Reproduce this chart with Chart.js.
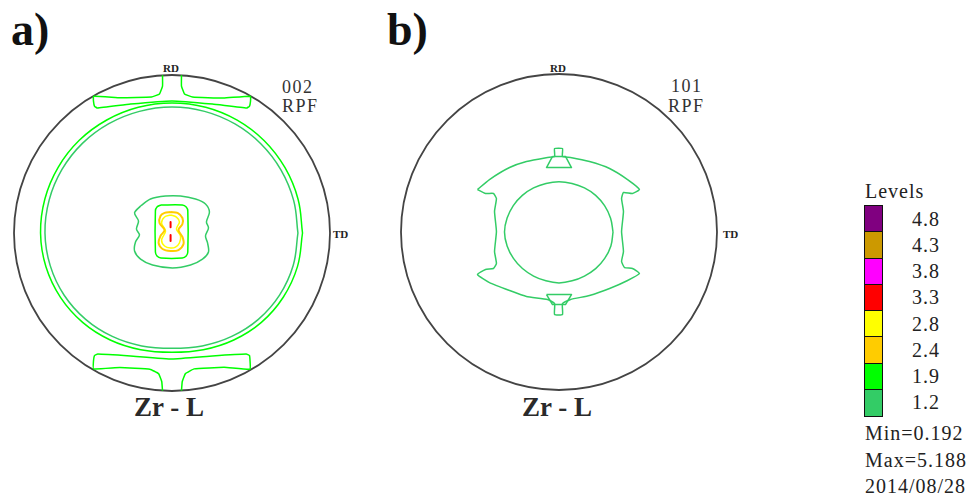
<!DOCTYPE html>
<html>
<head>
<meta charset="utf-8">
<script src="https://cdn.jsdelivr.net/npm/chart.js@4.4.0/dist/chart.umd.min.js"></script>
<style>
  body { margin: 0; width: 967px; height: 499px; background: #fff; position: relative; overflow: hidden;
         font-family: "Liberation Serif", "Times New Roman", serif; color: #222; }
  canvas { position: absolute; }
  .t { position: absolute; white-space: nowrap; line-height: 1; }
  .panel { font-size: 46px; font-weight: bold; color: #111; }
  .axis { font-size: 11px; font-weight: bold; }
  .rpf { font-size: 18px; letter-spacing: 1.5px; color: #333; }
  .name { font-size: 27px; font-weight: bold; color: #2a2a2a; transform: translateX(-50%); }
  .leg { font-size: 20px; letter-spacing: 1px; color: #222; }
  .box { position: absolute; box-sizing: border-box; border: 1.5px solid #111; width: 19px; }
</style>
</head>
<body>

<div class="t panel" style="left:11px;top:7px">a)</div>
<div class="t panel" style="left:387px;top:7px">b)</div>

<div class="t axis" style="left:171px;top:63px;transform:translateX(-50%)">RD</div>
<div class="t axis" style="left:333px;top:229px">TD</div>
<div class="t rpf" style="left:282px;top:78px">002</div>
<div class="t rpf" style="left:282px;top:97px">RPF</div>
<div class="t name" style="left:169px;top:394px">Zr - L</div>

<div class="t axis" style="left:558px;top:63px;transform:translateX(-50%)">RD</div>
<div class="t axis" style="left:723px;top:229px">TD</div>
<div class="t rpf" style="left:671px;top:77px">101</div>
<div class="t rpf" style="left:668px;top:97px">RPF</div>
<div class="t name" style="left:557px;top:394px">Zr - L</div>

<canvas id="pfA" width="340" height="340" style="left:2px;top:63px"></canvas>
<canvas id="pfB" width="340" height="340" style="left:389px;top:62px"></canvas>

<div id="legend"></div>

<script>
// contour levels (legend)
const levels = [4.8, 4.3, 3.8, 3.3, 2.8, 2.4, 1.9, 1.2];
const levelColors = ["#800080", "#cc9900", "#ff00ff", "#ff0000", "#ffff00", "#ffcc00", "#00ff00", "#33cc66"];
const minValue = 0.192;
const maxValue = 5.188;
const dateText = "2014/08/28";

// polar sampling for ring-like contours (degrees)
const ringAngles = [0, 15, 30, 45, 60, 75, 90, 105, 120, 135, 150, 165,
                    180, 195, 210, 225, 240, 255, 270, 285, 300, 315, 330, 345];

// ---- a) 002 pole figure (unit circle = 90 deg) ----
const a_ring19 = [0.826, 0.826, 0.826, 0.826, 0.825, 0.824, 0.823, 0.824, 0.826, 0.83, 0.832, 0.833,
                  0.832, 0.826, 0.815, 0.8, 0.782, 0.765, 0.755, 0.765, 0.782, 0.8, 0.813, 0.822];
const a_ring12 = [0.797, 0.797, 0.797, 0.797, 0.797, 0.797, 0.797, 0.797, 0.799, 0.802, 0.804, 0.805,
                  0.804, 0.798, 0.788, 0.773, 0.756, 0.74, 0.73, 0.74, 0.756, 0.773, 0.786, 0.794];
const a_capTop = [[-0.06, 0.998], [-0.06, 0.93], [-0.079, 0.88], [-0.13, 0.861], [-0.326, 0.856], [-0.496, 0.866],
                  [-0.497, 0.835], [-0.49, 0.802], [-0.472, 0.791], [-0.263, 0.816], [0, 0.836], [0.256, 0.816],
                  [0.472, 0.791], [0.49, 0.802], [0.497, 0.835], [0.496, 0.866], [0.326, 0.854], [0.13, 0.861],
                  [0.079, 0.88], [0.06, 0.93], [0.06, 0.998]];
const a_capBottom = [[-0.06, -0.998], [-0.065, -0.94], [-0.085, -0.89], [-0.14, -0.862], [-0.33, -0.852], [-0.496, -0.86],
                     [-0.497, -0.81], [-0.49, -0.775], [-0.47, -0.766], [-0.263, -0.778], [0, -0.797], [0.256, -0.778],
                     [0.47, -0.766], [0.49, -0.775], [0.494, -0.81], [0.494, -0.862], [0.33, -0.85], [0.14, -0.86],
                     [0.085, -0.89], [0.065, -0.94], [0.06, -0.998]];
const a_center12 = [[-0.199, 0.171], [-0.136, 0.215], [-0.041, 0.234], [0.054, 0.234], [0.149, 0.215], [0.212, 0.184],
                    [0.237, 0.133], [0.218, 0.07], [0.231, 0.032], [0.212, -0.019], [0.225, -0.063], [0.231, -0.12],
                    [0.193, -0.165], [0.117, -0.203], [0.003, -0.222], [-0.123, -0.203], [-0.199, -0.165],
                    [-0.237, -0.114], [-0.231, -0.057], [-0.206, -0.013], [-0.225, 0.025], [-0.212, 0.076], [-0.237, 0.127]];
const a_center19 = [[-0.07, 0.177], [0.065, 0.177], [0.09, 0.165], [0.1, 0.14], [0.1, -0.12], [0.09, -0.145],
                    [0.065, -0.158], [-0.07, -0.158], [-0.095, -0.145], [-0.105, -0.12], [-0.105, 0.14], [-0.095, 0.165]];
const a_center24 = [[-0.009, 0.133], [0.035, 0.127], [0.066, 0.095], [0.066, 0.057], [0.041, 0.019], [0.066, -0.025],
                    [0.073, -0.07], [0.041, -0.108], [-0.009, -0.114], [-0.06, -0.101], [-0.085, -0.063], [-0.073, -0.019],
                    [-0.047, 0.019], [-0.079, 0.063], [-0.073, 0.108], [-0.047, 0.127]];
const a_center28 = [[-0.009, 0.114], [0.028, 0.101], [0.047, 0.07], [0.028, 0.025], [0.054, -0.019], [0.047, -0.063],
                    [0.022, -0.089], [-0.009, -0.095], [-0.047, -0.082], [-0.066, -0.044], [-0.041, 0.013],
                    [-0.066, 0.063], [-0.047, 0.101]];
const a_peak33a = [[-0.009, 0.07], [-0.009, 0.036]];
const a_peak33b = [[-0.009, -0.013], [-0.009, -0.05]];

// ---- b) 101 pole figure ----
const b_outer12 = [[-0.516, 0.269], [-0.44, 0.332], [-0.313, 0.408], [-0.206, 0.446], [-0.073, 0.472], [-0.028, 0.478],
                   [-0.028, 0.528], [0.022, 0.528], [0.022, 0.478], [0.073, 0.472], [0.193, 0.446], [0.32, 0.402],
                   [0.434, 0.332], [0.509, 0.269], [0.465, 0.244], [0.408, 0.25], [0.396, 0.212], [0.408, 0.13],
                   [0.396, 0.003], [0.408, -0.123], [0.396, -0.187], [0.415, -0.225], [0.465, -0.231], [0.509, -0.263],
                   [0.434, -0.307], [0.32, -0.358], [0.193, -0.402], [0.073, -0.427], [0.022, -0.453], [0.022, -0.522],
                   [-0.028, -0.522], [-0.028, -0.453], [-0.073, -0.427], [-0.206, -0.408], [-0.313, -0.37], [-0.44, -0.32],
                   [-0.516, -0.269], [-0.465, -0.237], [-0.415, -0.231], [-0.396, -0.199], [-0.408, -0.123],
                   [-0.396, 0.003], [-0.408, 0.13], [-0.396, 0.212], [-0.415, 0.244], [-0.465, 0.244]];
const b_notchTop = [[-0.041, 0.478], [0.041, 0.478], [0.079, 0.408], [-0.079, 0.408]];
const b_notchBottom = [[-0.079, -0.396], [0.079, -0.396], [0.041, -0.459], [-0.041, -0.459]];
const b_inner12 = [0.342, 0.338, 0.333, 0.328, 0.322, 0.318, 0.318, 0.318, 0.322, 0.328, 0.334, 0.34,
                   0.345, 0.34, 0.333, 0.327, 0.322, 0.32, 0.322, 0.32, 0.322, 0.328, 0.334, 0.34];

const LIM = 170 / 158;

function colorOf(level) {
    return levelColors[levels.indexOf(level)];
}
function pts(list, closed) {
    const p = list.map(([x, y]) => ({ x, y }));
    if (closed) p.push(p[0]);
    return p;
}
function ring(radii) {
    const p = radii.map((r, i) => {
        const t = ringAngles[i] * Math.PI / 180;
        return { x: r * Math.cos(t), y: r * Math.sin(t) };
    });
    p.push(p[0]);
    return p;
}
function contour(data, level, tension, width) {
    return {
        data: data,
        showLine: true,
        borderColor: colorOf(level),
        borderWidth: width || 1.5,
        pointRadius: 0,
        tension: tension,
        fill: false,
        borderJoinStyle: "round"
    };
}

// outer circle of the projection, drawn on the chart scales
const poleCircle = {
    id: "poleCircle",
    beforeDatasetsDraw(chart) {
        const { ctx, scales } = chart;
        const cx = scales.x.getPixelForValue(0);
        const cy = scales.y.getPixelForValue(0);
        const r = scales.x.getPixelForValue(1) - cx;
        ctx.save();
        ctx.beginPath();
        ctx.arc(cx, cy, r, 0, Math.PI * 2);
        ctx.strokeStyle = "#444";
        ctx.lineWidth = 1.8;
        ctx.stroke();
        ctx.restore();
    }
};

function polePlot(id, datasets) {
    return new Chart(document.getElementById(id), {
        type: "scatter",
        data: { datasets: datasets },
        options: {
            responsive: false,
            animation: false,
            events: [],
            layout: { padding: 0 },
            scales: {
                x: { type: "linear", min: -LIM, max: LIM, display: false },
                y: { type: "linear", min: -LIM, max: LIM, display: false }
            },
            plugins: { legend: { display: false }, tooltip: { enabled: false } }
        },
        plugins: [poleCircle]
    });
}

polePlot("pfA", [
    contour(ring(a_ring19), 1.9, 0.4),
    contour(ring(a_ring12), 1.2, 0.4),
    contour(pts(a_capTop, false), 1.9, 0.1),
    contour(pts(a_capBottom, false), 1.9, 0.1),
    contour(pts(a_center12, true), 1.2, 0.3),
    contour(pts(a_center19, true), 1.9, 0.3),
    contour(pts(a_center24, true), 2.4, 0.35, 2),
    contour(pts(a_center28, true), 2.8, 0.35, 1.5),
    contour(pts(a_peak33a, false), 3.3, 0, 2),
    contour(pts(a_peak33b, false), 3.3, 0, 2)
]);

polePlot("pfB", [
    contour(pts(b_outer12, true), 1.2, 0.15),
    contour(pts(b_notchTop, true), 1.2, 0),
    contour(pts(b_notchBottom, true), 1.2, 0),
    contour(ring(b_inner12), 1.2, 0.4)
]);

// legend block
const legend = document.getElementById("legend");
const boxTop = 205, boxH = 26.25;
let html = '<div class="t leg" style="left:865px;top:181px">Levels</div>';
levels.forEach((lv, i) => {
    const top = boxTop + i * boxH;
    html += `<div class="box" style="left:864px;top:${top}px;height:${boxH + 1.5}px;background:${levelColors[i]}"></div>`;
    html += `<div class="t leg" style="left:912px;top:${top + boxH / 2 - 9.5}px">${lv.toFixed(1)}</div>`;
});
html += `<div class="t leg" style="left:865px;top:423px">Min=${minValue}</div>`;
html += `<div class="t leg" style="left:865px;top:450px">Max=${maxValue}</div>`;
html += `<div class="t leg" style="left:865px;top:476px">${dateText}</div>`;
legend.innerHTML = html;
</script>
</body>
</html>
